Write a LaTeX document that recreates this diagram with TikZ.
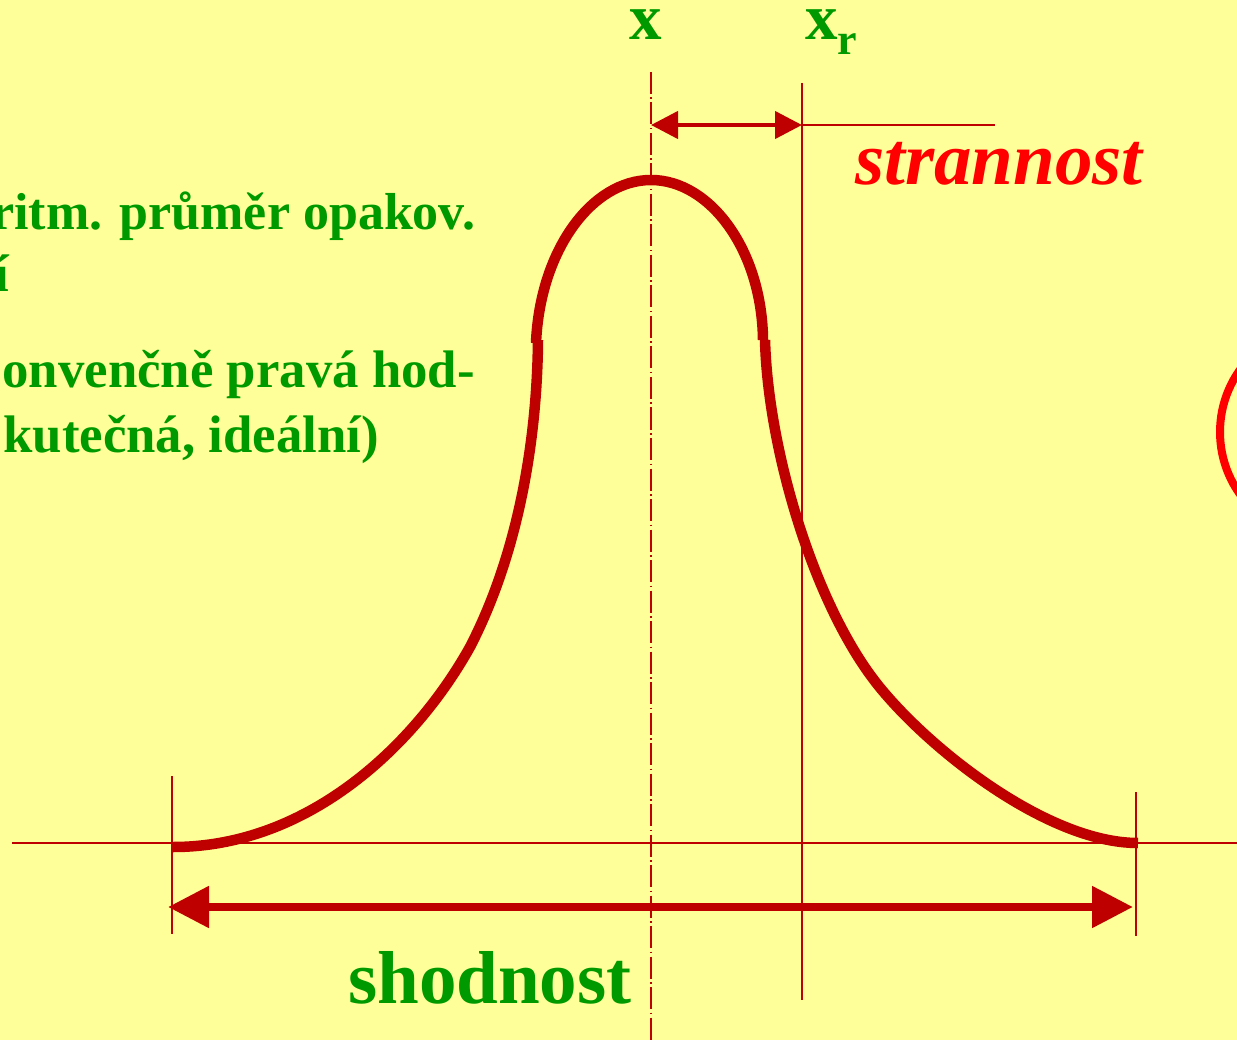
\documentclass[tikz,border=0pt]{standalone}
\usepackage{fontspec}
\setmainfont{Liberation Serif}
\usetikzlibrary{arrows.meta}
\definecolor{bg}{HTML}{FFFF99}
\definecolor{dred}{HTML}{BF0000}
\definecolor{grn}{HTML}{009900}
\definecolor{brred}{HTML}{FF0000}
\begin{document}
\begin{tikzpicture}[x=1pt,y=-1pt,
  thinline/.style={draw=dred, line width=2pt},
  curvepart/.style={draw=dred, line width=10.5pt, line cap=butt},
  sidetext/.style={text=grn, font=\bfseries\fontsize{52.8}{62}\selectfont, inner sep=0pt},
  biglabel/.style={font=\bfseries\fontsize{75}{80}\selectfont, inner sep=0pt},
  axislabel/.style={text=grn, font=\bfseries\fontsize{65}{70}\selectfont, inner sep=0pt}]
\useasboundingbox (0,0) rectangle (1237,1040);
\fill[bg] (0,0) rectangle (1237,1040);
\clip (0,0) rectangle (1237,1040);

% coordinates
\coordinate (xtop) at (651,72);
\coordinate (xbot) at (651,1040);
\coordinate (xrtop) at (802,83);
\coordinate (xrbot) at (802,1000);
\coordinate (base0) at (12,843);
\coordinate (base1) at (1237,843);
\coordinate (lt) at (172,776);
\coordinate (lb) at (172,934);
\coordinate (rt) at (1136,792);
\coordinate (rb) at (1136,936);
\coordinate (sa) at (651,125);
\coordinate (sb) at (802,125);
\coordinate (se) at (995,125);
\coordinate (shl) at (168,907);
\coordinate (shr) at (1133,907);

% side text (cut at the left edge)
\node[sidetext, font=\bfseries\fontsize{52}{62}\selectfont, anchor=base west] (t1) at (-9,230) {ritm. průměr opakov.};
\node[sidetext, anchor=base west] (t2) at (-6,292) {í};
\node[sidetext, anchor=base east] (t3) at (475,388) {onvenčně pravá hod-};
\node[sidetext, anchor=base east] (t4) at (379,452) {kutečná, ideální)};

% labels
\node[axislabel, anchor=base] (lx) at (646,40) {x};
\node[axislabel, anchor=base west] (lxr) at (805,40) {x\raisebox{-15pt}{\fontsize{44}{44}\selectfont r}};
\node[biglabel, text=brred, anchor=base west, font=\bfseries\itshape\fontsize{75}{80}\selectfont] (lstr) at (855,185) {strannost};
\node[biglabel, text=grn, anchor=base west] (lsh) at (348,1003) {shodnost};

% axis lines
\draw[thinline] (base0) -- (base1);
\draw[thinline] (lt) -- (lb);
\draw[thinline] (rt) -- (rb);
\draw[thinline] (xrtop) -- (xrbot);
\draw[thinline] (sb) -- (se);
\draw[draw=dred, line width=2pt, dash pattern=on 22pt off 3.5pt on 1.5pt off 3.5pt] (xtop) -- (xbot);

% bell curve in three pieces
\draw[curvepart] (536,343) .. controls (540,250) and (592,180) .. (651,180)
                 .. controls (710,180) and (762,250) .. (763,340);
\draw[curvepart] (538,340) .. controls (537,450) and (515,560) .. (470,647)
                 .. controls (416.5,743.1) and (310,847) .. (173,847);
\draw[curvepart] (765,340) .. controls (768,450) and (813.4,600.4) .. (874,680)
                 .. controls (922.5,743.7) and (1045,843) .. (1138,843);

% arrows
\draw[draw=dred, line width=4.3pt, {Triangle[length=27pt,width=27pt]}-{Triangle[length=27pt,width=27pt]}] (sa) -- (sb);
\draw[draw=dred, line width=8.3pt, {Triangle[length=41pt,width=40pt]}-{Triangle[length=41pt,width=40pt]}] (shl) -- (shr);

% red circle at right edge
\draw[draw=brred, line width=8pt] (1327,432) circle[radius=107];
\end{tikzpicture}
\end{document}
